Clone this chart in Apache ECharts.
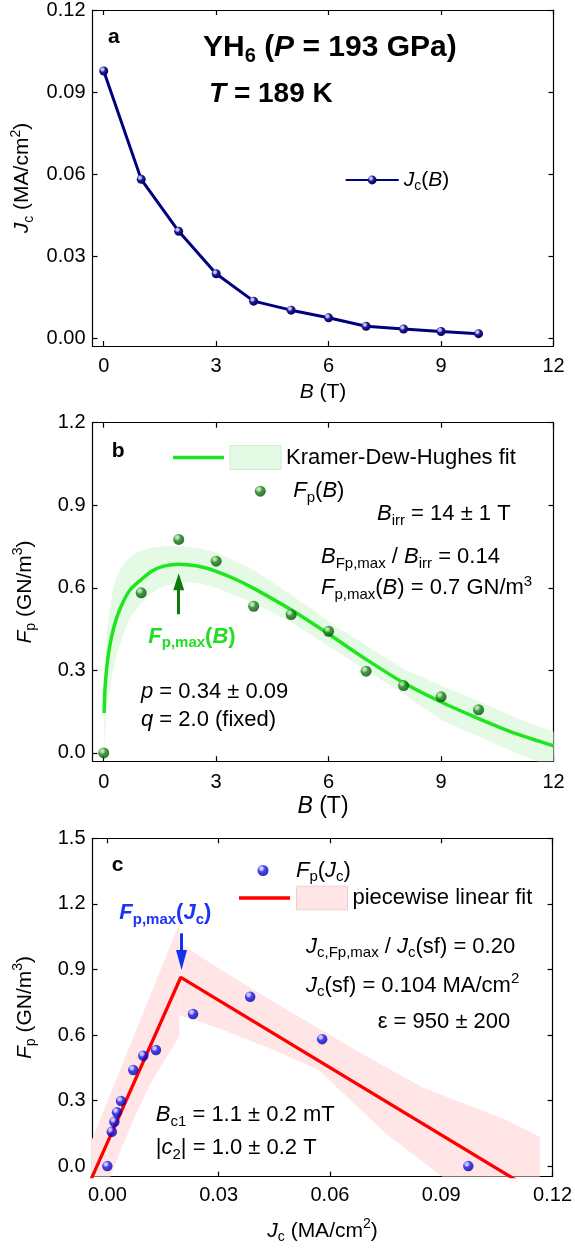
<!DOCTYPE html>
<html>
<head>
<meta charset="utf-8">
<script src="https://cdn.jsdelivr.net/npm/echarts@6/dist/echarts.min.js"></script>
<style>
html,body{margin:0;padding:0;background:#fff}
#chart{width:575px;height:1249px}
</style>
</head>
<body>
<div id="chart"></div>
<script>
// ---- panel a: critical current density vs applied field ----
const fieldB = [0, 1, 2, 3, 4, 5, 6, 7, 8, 9, 10];
const jcB = [0.0977, 0.0581, 0.0391, 0.0236, 0.0136, 0.0103, 0.0075, 0.0044, 0.0034, 0.0025, 0.0017];

// ---- panel b: pinning force vs field, with Kramer-Dew-Hughes fit ----
const fpB = [0.0, 0.582, 0.776, 0.697, 0.533, 0.503, 0.442, 0.297, 0.245, 0.204, 0.157];
const kdhB  = [0.01, 0.03, 0.06, 0.1, 0.17, 0.25, 0.35, 0.5, 0.7, 1, 1.3, 1.6, 2, 2.5, 3, 3.5, 4, 5, 6, 7, 8, 9, 10, 11, 12];
const kdhFp = [0.145, 0.224, 0.282, 0.334, 0.396, 0.446, 0.493, 0.544, 0.592, 0.630, 0.662, 0.679, 0.686, 0.679, 0.660, 0.632, 0.598, 0.520, 0.432, 0.340, 0.255, 0.185, 0.125, 0.070, 0.026];
const kdhBandB  = [0.01, 0.05, 0.1, 0.25, 0.35, 0.5, 0.6, 0.75, 1, 1.25, 1.5, 2, 2.5, 3, 4, 5, 6, 7, 8, 9, 10, 11, 12];
const kdhBandHi = [0.16, 0.36, 0.46, 0.60, 0.645, 0.68, 0.70, 0.717, 0.735, 0.745, 0.75, 0.752, 0.745, 0.728, 0.665, 0.575, 0.478, 0.39, 0.305, 0.245, 0.188, 0.128, 0.077];
const kdhBandLo = [0.0, 0.10, 0.18, 0.30, 0.36, 0.42, 0.46, 0.50, 0.545, 0.578, 0.60, 0.62, 0.618, 0.60, 0.545, 0.475, 0.388, 0.30, 0.215, 0.12, 0.06, 0.0, -0.055];

// ---- panel c: pinning force vs critical current density, piecewise linear fit ----
const jcC = [0.0, 0.0012, 0.0019, 0.0026, 0.0037, 0.0070, 0.0097, 0.0131, 0.0231, 0.0385, 0.0579, 0.0973];
const fpC = [0.0, 0.157, 0.203, 0.246, 0.298, 0.440, 0.505, 0.531, 0.696, 0.775, 0.581, 0.0];
const pwJc = [-0.006, 0.0198, 0.112];
const pwFp = [-0.122, 0.864, -0.083];
// confidence band, rising branch (outline: upper edge, then lower edge back)
const bandRiseJc = [-0.006, 0.0194, 0.0194, 0.016, 0.012, 0.008, 0.004, 0.0008, 0.0, -0.006];
const bandRiseFp = [0.043, 1.11, 0.592, 0.50, 0.39, 0.25, 0.09, -0.05, -0.1, -0.1];
// confidence band, falling branch
const bandFallJc = [0.0194, 0.030, 0.045, 0.057, 0.070, 0.085, 0.100, 0.1067, 0.1166, 0.1166, 0.0915, 0.0902, 0.075, 0.057, 0.045, 0.0302, 0.0194];
const bandFallFp = [1.021, 0.905, 0.75, 0.63, 0.50, 0.36, 0.26, 0.218, 0.134, -0.1, -0.1, -0.048, 0.15, 0.44, 0.53, 0.63, 0.691];

// tick values
const ticksB = [0, 3, 6, 9, 12];
const ticksJcA = [0, 0.03, 0.06, 0.09, 0.12];
const ticksFpB = [0, 0.3, 0.6, 0.9, 1.2];
const ticksFpC = [0, 0.3, 0.6, 0.9, 1.2, 1.5];
const ticksJcC = [0, 0.03, 0.06, 0.09, 0.12];

const FONT = 'Liberation Sans';

function richE(size, color) {
  const sub = Math.round(size * 0.68);
  const lh = size + 6;
  const base = { fontFamily: FONT, color: color, fontSize: size, lineHeight: lh };
  return {
    n: Object.assign({}, base),
    i: Object.assign({}, base, { fontStyle: 'italic' }),
    b: Object.assign({}, base, { fontWeight: 'bold' }),
    bi: Object.assign({}, base, { fontWeight: 'bold', fontStyle: 'italic' }),
    s: { fontFamily: FONT, color: color, fontSize: sub, lineHeight: sub, verticalAlign: 'bottom' },
    bs: { fontFamily: FONT, color: color, fontSize: sub, lineHeight: sub, verticalAlign: 'bottom', fontWeight: 'bold' },
    p: { fontFamily: FONT, color: color, fontSize: sub, lineHeight: sub, verticalAlign: 'top' },
    g: { width: 22.5, lineHeight: lh }
  };
}
function richZ(size, color) {
  const r = richE(size, color);
  Object.keys(r).forEach(k => { if (r[k].color) { r[k].fill = r[k].color; delete r[k].color; } });
  return r;
}

// glossy ball fill for the data markers
function sphere(light, base, dark) {
  return new echarts.graphic.RadialGradient(0.36, 0.32, 0.7, [
    { offset: 0, color: light },
    { offset: 0.18, color: light },
    { offset: 0.45, color: base },
    { offset: 1, color: dark }
  ]);
}

const pts = (xs, ys) => xs.map((x, i) => [x, ys[i]]);

const grids = [
  { left: 92.5, right: 21.5, top: 6, height: 340 },
  { left: 92.5, right: 21.5, top: 422.7, height: 338.5 },
  { left: 92.5, right: 21.5, top: 838.3, height: 338.3 }
];

const axisLineStyle = { color: '#000', width: 1.2 };

function xPair(grid, min, max, ticks, dec, name, nameGap, nameSize, margin) {
  const common = {
    gridIndex: grid, type: 'value', min: min, max: max,
    axisLine: { show: true, onZero: false, lineStyle: axisLineStyle },
    axisTick: { show: true, inside: true, length: 5, lineStyle: axisLineStyle, customValues: ticks },
    splitLine: { show: false }
  };
  return [
    Object.assign({}, common, {
      position: 'bottom',
      axisLabel: { customValues: ticks, margin: margin, fontSize: 20, fontFamily: FONT, color: '#000',
                   formatter: v => dec === 0 ? String(Math.round(v)) : v.toFixed(dec) },
      name: name, nameLocation: 'middle', nameGap: nameGap,
      nameTextStyle: { fontSize: nameSize, fontFamily: FONT, color: '#000', rich: richE(nameSize, '#000') }
    }),
    Object.assign({}, common, { position: 'top', axisLabel: { show: false } })
  ];
}
function yPair(grid, min, max, ticks, dec, name, nameGap) {
  const common = {
    gridIndex: grid, type: 'value', min: min, max: max,
    axisLine: { show: true, onZero: false, lineStyle: axisLineStyle },
    axisTick: { show: true, inside: true, length: 5, lineStyle: axisLineStyle, customValues: ticks },
    splitLine: { show: false }
  };
  return [
    Object.assign({}, common, {
      position: 'left',
      axisLabel: { customValues: ticks, margin: 7, fontSize: 20, fontFamily: FONT, color: '#000',
                   formatter: v => v.toFixed(dec) },
      name: name, nameLocation: 'middle', nameGap: nameGap,
      nameTextStyle: { fontSize: 21, fontFamily: FONT, color: '#000', rich: richE(21, '#000') }
    }),
    Object.assign({}, common, { position: 'right', axisLabel: { show: false } })
  ];
}

const xAxes = [].concat(
  xPair(0, -0.3, 12, ticksB, 0, '{i|B}{n| (T)}', 33, 21, 10),
  xPair(1, -0.3, 12, ticksB, 0, '{i|B}{n| (T)}', 31, 23, 11),
  xPair(2, -0.004, 0.12, ticksJcC, 2, '{i|J}{s|c}{n| (MA/cm}{p|2}{n|)}', 41, 21, 9)
);
const yAxes = [].concat(
  yPair(0, -0.0028, 0.12, ticksJcA, 2, '{i|J}{s|c}{n| (MA/cm}{p|2}{n|)}', 54),
  yPair(1, -0.03, 1.2, ticksFpB, 1, '{i|F}{s|p}{n| (GN/m}{p|3}{n|)}', 54),
  yPair(2, -0.048, 1.5, ticksFpC, 1, '{i|F}{s|p}{n| (GN/m}{p|3}{n|)}', 54)
);

function polygonSeries(name, xi, yi, outlines, color) {
  return {
    name: name, type: 'custom', xAxisIndex: xi, yAxisIndex: yi, clip: true, silent: true, z: 1,
    itemStyle: { color: color },
    data: [[outlines[0][0][0], outlines[0][1][0]]],
    renderItem: function (params, api) {
      return {
        type: 'group',
        children: outlines.map(o => ({
          type: 'polygon',
          shape: { points: o[0].map((x, i) => api.coord([x, o[1][i]])) },
          style: { fill: color }
        }))
      };
    }
  };
}

const GREEN_BAND = '#e5fae5';
const PINK_BAND = '#ffe5e5';
const GREEN_LINE = '#1ee61e';

const series = [
  // a
  {
    name: 'Jc(B)', type: 'line', xAxisIndex: 0, yAxisIndex: 0, data: pts(fieldB, jcB),
    lineStyle: { color: '#000080', width: 3 }, symbol: 'circle', symbolSize: 9,
    itemStyle: { color: sphere('#c8c8f0', '#1c1c98', '#00005a') }, z: 3
  },
  // b
  polygonSeries('Kramer-Dew-Hughes fit', 2, 2,
    [[kdhBandB.concat(kdhBandB.slice().reverse()), kdhBandHi.concat(kdhBandLo.slice().reverse())]], GREEN_BAND),
  {
    name: 'KDH curve', type: 'line', xAxisIndex: 2, yAxisIndex: 2, data: pts(kdhB, kdhFp),
    smooth: 0.3, symbol: 'none', lineStyle: { color: GREEN_LINE, width: 3.5 }, itemStyle: { color: GREEN_LINE }, z: 2
  },
  {
    name: 'Fp(B)', type: 'scatter', xAxisIndex: 2, yAxisIndex: 2, data: pts(fieldB, fpB),
    symbol: 'circle', symbolSize: 11, itemStyle: { color: sphere('#a8dca8', '#148214', '#064806') }, z: 3,
    markLine: {
      silent: true, symbol: ['none', 'triangle'], symbolSize: [11, 17],
      label: { show: false },
      lineStyle: { color: '#0b7a0b', width: 3, type: 'solid' },
      data: [[{ coord: [2, 0.504] }, { coord: [2, 0.622] }]]
    }
  },
  // c
  polygonSeries('piecewise linear fit', 4, 4,
    [[bandRiseJc, bandRiseFp], [bandFallJc, bandFallFp]], PINK_BAND),
  {
    name: 'PW line', type: 'line', xAxisIndex: 4, yAxisIndex: 4, data: pts(pwJc, pwFp),
    symbol: 'none', lineStyle: { color: '#ff0000', width: 3.3 }, itemStyle: { color: '#ff0000' }, clip: true, z: 2
  },
  {
    name: 'Fp(Jc)', type: 'scatter', xAxisIndex: 4, yAxisIndex: 4, data: pts(jcC, fpC),
    symbol: 'circle', symbolSize: 10.5, itemStyle: { color: sphere('#c0c0ff', '#1414f5', '#00009a') }, z: 3,
    markLine: {
      silent: true, symbol: ['none', 'triangle'], symbolSize: [11, 20],
      label: { show: false },
      lineStyle: { color: '#1030f0', width: 3, type: 'solid' },
      data: [[{ coord: [0.02, 1.065] }, { coord: [0.02, 0.943] }]]
    }
  }
];

const legendLabels = {
  'Jc(B)': '{i|J}{s|c}{n|(}{i|B}{n|)}',
  'KDH curve': '',
  'Kramer-Dew-Hughes fit': '{n|Kramer-Dew-Hughes fit}',
  'Fp(B)': '{g|}{i|F}{s|p}{n|(}{i|B}{n|)}',
  'Fp(Jc)': '{g|}{i|F}{s|p}{n|(}{i|J}{s|c}{n|)}',
  'PW line': '',
  'piecewise linear fit': '{n|piecewise linear fit}'
};
function legend(left, top, w, h, data, size, gap) {
  return {
    left: left, top: top, itemWidth: w, itemHeight: h, itemGap: gap || 0, padding: 0,
    selectedMode: false, orient: 'horizontal', data: data, symbolKeepAspect: true,
    formatter: n => legendLabels[n],
    textStyle: { fontSize: size, fontFamily: FONT, color: '#000', rich: richE(size, '#000') }
  };
}
const legends = [
  legend(344.7, 169.5, 53, 11, ['Jc(B)'], 21),
  legend(173, 445, 51, 24, [
    { name: 'KDH curve', icon: 'path://M0,0H51V3.5H0Z', itemStyle: { color: GREEN_LINE } },
    { name: 'Kramer-Dew-Hughes fit', icon: 'rect', itemStyle: { color: GREEN_BAND, borderColor: '#cdeccd', borderWidth: 1 } }], 22, 5.5),
  legend(254.8, 480.2, 11, 11, ['Fp(B)'], 22),
  legend(257.5, 859.5, 11, 11, ['Fp(Jc)'], 22),
  legend(239, 885.7, 51, 23.6, [
    { name: 'PW line', icon: 'path://M0,0H51V3.3H0Z', itemStyle: { color: '#ff0000' } },
    { name: 'piecewise linear fit', icon: 'rect', itemStyle: { color: PINK_BAND, borderColor: '#f3cccc', borderWidth: 1 } }], 22, 6)
];

function txt(x, y, text, size, color) {
  return {
    type: 'text', x: x, y: y, silent: true, z: 10,
    style: { text: text, fontSize: size, fontFamily: FONT, fill: color || '#000',
             verticalAlign: 'middle', align: 'left', rich: richZ(size, color || '#000') }
  };
}
const graphics = [
  // a
  txt(108, 37.5, '{b|a}', 21),
  txt(203, 48, '{b|YH}{bs|6}{b| (}{bi|P}{b| = 193 GPa)}', 30),
  txt(209, 94, '{bi|T}{b| = 189 K}', 28),
  // b
  txt(111.7, 451, '{b|b}', 21),
  txt(377, 514, '{i|B}{s|irr}{n| = 14 ± 1 T}', 22),
  txt(321, 557.3, '{i|B}{s|Fp,max}{n| / }{i|B}{s|irr}{n| = 0.14}', 22),
  txt(321, 588.3, '{i|F}{s|p,max}{n|(}{i|B}{n|) = 0.7 GN/m}{p|3}', 22),
  txt(148.3, 636.7, '{bi|F}{bs|p,max}{b|(}{bi|B}{b|)}', 22, '#22dd22'),
  txt(141, 692, '{i|p}{n| = 0.34 ± 0.09}', 22),
  txt(141, 720, '{i|q}{n| = 2.0 (fixed)}', 22),
  // c
  txt(111.8, 865, '{b|c}', 21),
  txt(306, 946.7, '{i|J}{s|c,Fp,max}{n| / }{i|J}{s|c}{n|(sf) = 0.20}', 22),
  txt(306, 985.7, '{i|J}{s|c}{n|(sf) = 0.104 MA/cm}{p|2}', 22),
  txt(377.7, 1021.7, '{n|ε = 950 ± 200}', 22),
  txt(119.3, 913.3, '{bi|F}{bs|p,max}{b|(}{bi|J}{bs|c}{b|)}', 22, '#1c34f5'),
  txt(155.8, 1115, '{i|B}{s|c1}{n| = 1.1 ± 0.2 mT}', 22),
  txt(155.8, 1148.3, '{n||}{i|c}{s|2}{n|| = 1.0 ± 0.2 T}', 22)
];

const chart = echarts.init(document.getElementById('chart'), null, { renderer: 'canvas' });
chart.setOption({
  animation: false,
  backgroundColor: '#fff',
  grid: grids,
  xAxis: xAxes,
  yAxis: yAxes,
  legend: legends,
  series: series,
  graphic: graphics
});
</script>
</body>
</html>
